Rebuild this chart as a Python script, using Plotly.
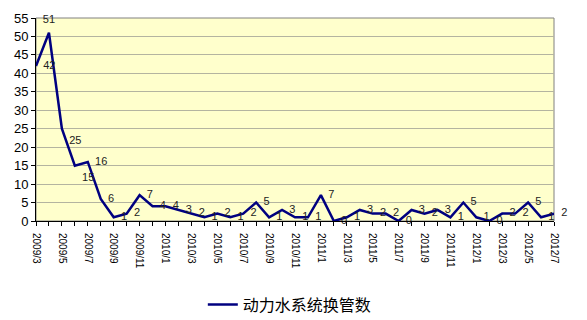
import plotly.graph_objects as go

months = []
y, m = 2009, 3
for _ in range(41):
    months.append(f"{y}/{m}")
    m += 1
    if m > 12:
        m = 1
        y += 1

values = [42, 51, 25, 15, 16, 6, 1, 2, 7, 4, 4, 3, 2, 1, 2, 1, 2, 5, 1, 3,
          1, 1, 7, 0, 1, 3, 2, 2, 0, 3, 2, 3, 1, 5, 1, 0, 2, 2, 5, 1, 2]

series_name = "动力水系统换管数"

tick_text = [mo if i % 2 == 0 else "" for i, mo in enumerate(months)]

positions = ["middle right"] * len(values)
positions[1] = "top center"
positions[2] = "bottom right"
positions[3] = "bottom right"

fig = go.Figure()
fig.add_trace(go.Scatter(
    x=months, y=values, mode="lines", name=series_name,
    line=dict(color="#000080", width=2.5),
))
fig.add_trace(go.Scatter(
    x=months, y=values, mode="markers+text", showlegend=False,
    marker=dict(size=10, color="rgba(0,0,0,0)"),
    text=[str(v) for v in values], textposition=positions,
    textfont=dict(family="Liberation Sans, Arial", size=11, color="#222222"),
    cliponaxis=False, hoverinfo="skip",
))

fig.update_layout(
    width=587, height=320,
    margin=dict(l=36, r=33, t=18, b=99, autoexpand=False),
    paper_bgcolor="white",
    plot_bgcolor="#FFFFCC",
    font=dict(family="Liberation Sans, Arial", size=12, color="black"),
    showlegend=True,
    legend=dict(orientation="h", x=0.49, xanchor="center",
                yref="container", y=0.048, yanchor="middle",
                font=dict(family="Noto Sans CJK SC", size=16, color="black"),
                bgcolor="rgba(0,0,0,0)"),
    shapes=[dict(type="rect", xref="paper", yref="paper", x0=0, x1=1, y0=0, y1=1,
                 line=dict(color="#808080", width=1), layer="below")],
)
fig.update_xaxes(
    type="category", categoryorder="array", categoryarray=months,
    range=[0, len(months) - 1], automargin=False,
    tickmode="array", tickvals=months, ticktext=tick_text,
    tickangle=90, tickfont=dict(size=10, color="black"), ticklabelstandoff=5,
    ticks="outside", ticklen=4, tickcolor="black",
    showline=True, linecolor="black", linewidth=1,
    showgrid=False, zeroline=False,
)
fig.update_yaxes(
    range=[0, 55], dtick=5, tick0=0, automargin=False,
    tickfont=dict(size=13, color="black"),
    ticks="outside", ticklen=4, tickcolor="black",
    showline=True, linecolor="black", linewidth=1,
    showgrid=True, gridcolor="#B4B4A0", gridwidth=1, zeroline=False,
)

fig.write_html("out.html")
